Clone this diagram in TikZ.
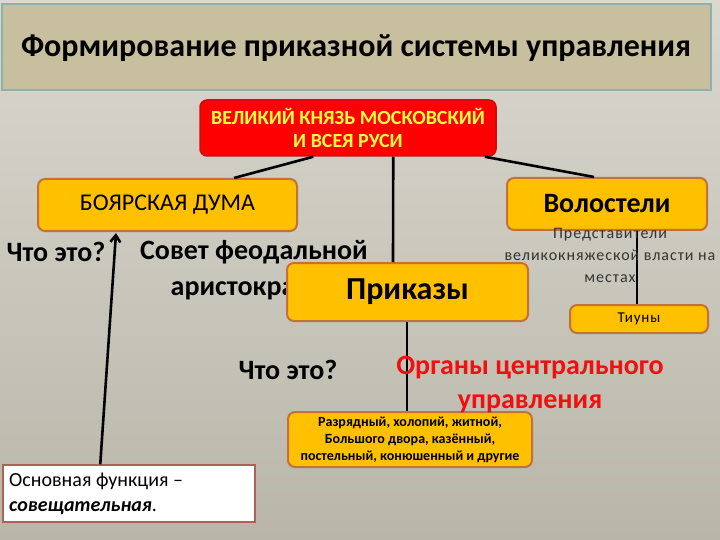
\documentclass[tikz,border=0pt]{standalone}
\usepackage{fontspec}
\setmainfont{Carlito}
\newfontfamily\spaced[LetterSpace=6]{Carlito}
\usetikzlibrary{arrows.meta}
\definecolor{bgtop}{HTML}{DAD8CF}
\definecolor{bgbot}{HTML}{B9B6A9}
\definecolor{titlefill}{HTML}{C7BF9E}
\definecolor{titleedge}{HTML}{8DB2AE}
\definecolor{orfill}{HTML}{FFC000}
\definecolor{oredge}{HTML}{C4703C}
\definecolor{redfill}{HTML}{FF0000}
\definecolor{rededge}{HTML}{C81010}
\definecolor{yel}{HTML}{FFFF40}
\definecolor{whiteedge}{HTML}{B06058}
\definecolor{redtext}{HTML}{F01010}
\tikzset{
  orbox/.style={draw=oredge, fill=orfill, line width=2pt, rounded corners=7pt, inner sep=0pt, align=center},
  link/.style={line width=2.6pt, black},
  plain/.style={inner sep=0pt, align=center}
}
\begin{document}
\begin{tikzpicture}[x=1pt,y=-1pt]
\useasboundingbox (0,0) rectangle (720,540);
\shade[top color=bgtop, bottom color=bgbot] (0,0) rectangle (720,540);
% title
\node[draw=titleedge, fill=titlefill, line width=2pt, minimum width=709pt, minimum height=86pt, inner sep=0pt, anchor=north west] (title) at (1,3) {};
\node[plain, font=\fontsize{32}{36}\selectfont\bfseries] (ttext) at (356,48) {Формирование приказной системы управления};
% boxes
\node[draw=rededge, fill=redfill, line width=1.5pt, rounded corners=7pt, minimum width=296pt, minimum height=56pt, inner sep=0pt, align=center, text=yel, font=\fontsize{20}{23}\selectfont\bfseries] (red) at (348,128) {ВЕЛИКИЙ КНЯЗЬ МОСКОВСКИЙ\\И ВСЕЯ РУСИ};
\node[orbox, minimum width=259pt, minimum height=52pt, font=\fontsize{24}{28}\selectfont] (boyar) at (167.5,205) {БОЯРСКАЯ ДУМА};
\node[orbox, minimum width=200pt, minimum height=52pt, font=\fontsize{28}{32}\selectfont\bfseries] (vol) at (607,204) {Волостели};
\node[plain, font=\fontsize{28}{36}\selectfont\bfseries] (sovet) at (254,270) {Совет феодальной\\аристократии};
\node[orbox, minimum width=241pt, minimum height=58pt, font=\fontsize{32}{36}\selectfont\bfseries] (prik) at (407.5,292) {Приказы};
\node[orbox, minimum width=138pt, minimum height=28pt, font=\fontsize{15}{18}\selectfont\spaced] (tiu) at (639,319) {Тиуны};
\node[orbox, minimum width=244pt, minimum height=55pt, font=\fontsize{14}{17}\selectfont\bfseries] (raz) at (410,439.5) {Разрядный, холопий, житной,\\Большого двора, казённый,\\постельный, конюшенный и другие};
\node[draw=whiteedge, fill=white, line width=1.5pt, minimum width=252pt, minimum height=57pt, inner sep=0pt] (white) at (129,493.5) {};
\node[inner sep=0pt, anchor=west, align=left, font=\fontsize{20}{25}\selectfont] (wtext) at (9,494) {Основная функция –\\\textit{\bfseries совещательная}.};
% connectors
\draw[link] ([xshift=114pt]red.south west) -- ([xshift=197pt]boyar.north west);
\draw[link] ([xshift=194pt]red.south west) -- ([xshift=107pt]prik.north west);
\draw[link] ([xshift=-12pt]red.south east) -- ([xshift=88pt]vol.north west);
\draw[link] ([xshift=121pt]prik.south west) -- ([xshift=120pt]raz.north west);
\draw[link] ([xshift=131pt]vol.south west) -- ([xshift=68pt]tiu.north west);
\draw[link, -{Straight Barb[length=7pt,width=10pt]}] ([xshift=98pt]white.north west) -- ([xshift=79pt,yshift=-1pt]boyar.south west);
% texts
\node[plain, font=\fontsize{28}{32}\selectfont\bfseries] (q1) at (56,252) {Что это?};
\node[plain, font=\fontsize{28}{32}\selectfont\bfseries] (q2) at (288,370) {Что это?};
\node[plain, text=redtext, font=\fontsize{28}{34}\selectfont\bfseries] (organy) at (530,385) {Органы центрального\\управления};
\node[plain, text=black!80, font=\fontsize{16}{22}\selectfont\spaced] (pred) at (610,255) {Представители\\великокняжеской власти на\\местах};
\end{tikzpicture}
\end{document}
